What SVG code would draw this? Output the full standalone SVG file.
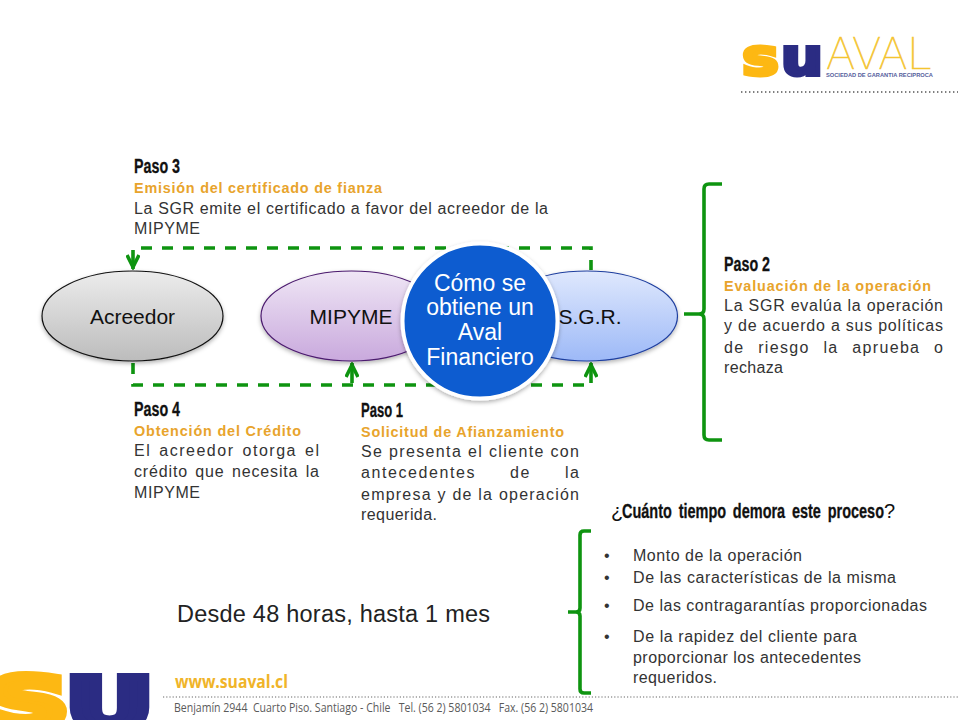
<svg xmlns="http://www.w3.org/2000/svg" width="960" height="720" viewBox="0 0 960 720">
<defs>
<linearGradient id="gGray" x1="0" y1="0" x2="0" y2="1"><stop offset="0" stop-color="#ececec"/><stop offset="1" stop-color="#bcbcbc"/></linearGradient>
<linearGradient id="gPurple" x1="0" y1="0" x2="0" y2="1"><stop offset="0" stop-color="#efe6f5"/><stop offset="1" stop-color="#c9a9dd"/></linearGradient>
<linearGradient id="gBlue" x1="0" y1="0" x2="0" y2="1"><stop offset="0" stop-color="#dfe8fd"/><stop offset="1" stop-color="#9db9f7"/></linearGradient>
<filter id="sh" x="-10%" y="-10%" width="120%" height="125%"><feDropShadow dx="0" dy="2" stdDeviation="2" flood-color="#000" flood-opacity="0.3"/></filter>
<marker id="arr" viewBox="0 0 16 14" refX="15" refY="7" markerWidth="16" markerHeight="14" markerUnits="userSpaceOnUse" orient="auto"><path d="M1 1 L13 7 L1 13" fill="none" stroke="#0e9410" stroke-width="3.6"/></marker>
</defs>
<style>
text{font-family:"Liberation Sans",Arial,sans-serif}
.t{font-size:16px;fill:#333;transform:translateY(1px)}
.o{font-size:14.4px;font-weight:700;fill:#e8a42c;transform:translateY(1px)}
.p{font-family:"Liberation Sans Narrow","Liberation Sans",sans-serif;font-size:20px;font-weight:700;fill:#111;stroke:#111;stroke-width:.3;transform:translateY(1px)}
.q{font-size:20px;fill:#111}
.n{font-size:21px;fill:#111;text-anchor:middle}
.c{font-size:23px;fill:#fff;text-anchor:middle}
.d{fill:none;stroke:#0e9410;stroke-width:3.6;stroke-dasharray:11 10}
.s{fill:none;stroke:#0e9410;stroke-width:3.6}
.b{fill:none;stroke:#0e9410;stroke-width:3.6}
</style>
<rect width="960" height="720" fill="#fff"/>

<g id="logo">
<text x="742" y="75" font-size="52" font-weight="700" fill="#fdb813" stroke="#fdb813" stroke-width="4" textLength="37" lengthAdjust="spacingAndGlyphs" style="font-family:'DejaVu Sans',sans-serif">s</text>
<text x="781" y="75" font-size="52" font-weight="700" fill="#2b2c83" stroke="#2b2c83" stroke-width="4" textLength="42" lengthAdjust="spacingAndGlyphs" style="font-family:'DejaVu Sans',sans-serif">u</text>
<text x="826" y="69" font-size="43" fill="#f4c430" stroke="#f4c430" stroke-width=".6" textLength="107" lengthAdjust="spacingAndGlyphs" style="font-family:Inter,sans-serif;font-weight:100">AVAL</text>
<text x="826" y="77" font-size="5.2" font-weight="700" fill="#555e9c" textLength="107" lengthAdjust="spacingAndGlyphs">SOCIEDAD DE GARANTIA RECIPROCA</text>
<line x1="741" y1="92" x2="958" y2="92" stroke="#555" stroke-width="1.4" stroke-dasharray="1.4 2.6"/>
</g>

<g id="footer">
<text x="-12" y="727" font-size="70" font-weight="700" fill="#fdb813" stroke="#fdb813" stroke-width="9" textLength="80" lengthAdjust="spacingAndGlyphs" style="font-family:'DejaVu Sans',sans-serif">S</text>
<text x="66" y="728" font-size="70" font-weight="700" fill="#2b2c83" stroke="#2b2c83" stroke-width="8" textLength="87" lengthAdjust="spacingAndGlyphs" style="font-family:'DejaVu Sans',sans-serif">U</text>
<text x="175" y="688" font-size="18" font-weight="700" fill="#f0b429" textLength="113" lengthAdjust="spacingAndGlyphs" style="font-family:'Open Sans',sans-serif">www.suaval.cl</text>
<line x1="163" y1="697" x2="958" y2="697" stroke="#666" stroke-width="1.2" stroke-dasharray="1.2 2"/>
<text x="174" y="712" font-size="12" fill="#5a5a5a" textLength="419" lengthAdjust="spacingAndGlyphs" style="font-family:'Open Sans',sans-serif;white-space:pre">Benjamín 2944  Cuarto Piso. Santiago - Chile   Tel. (56 2) 5801034   Fax. (56 2) 5801034</text>
</g>

<g id="connectors">
<path class="d" d="M141 248 H591 V270"/>
<path class="d" d="M133 363 V385 H591"/>
<path class="s" d="M133 250 V269" marker-end="url(#arr)"/>
<path class="s" d="M352 383 V363" marker-end="url(#arr)"/>
<path class="s" d="M591 383 V363" marker-end="url(#arr)"/>
<path class="b" d="M722 184 H709 Q704 184 704 189 V309 Q704 314 699 314 H684 H699 Q704 314 704 319 V435 Q704 440 709 440 H722"/>
<path class="b" d="M591 531 H584 Q580 531 580 535 V608 Q580 612 576 612 H568 H576 Q580 612 580 616 V689 Q580 693 584 693 H591"/>
</g>

<g id="node-acreedor">
<ellipse cx="132.5" cy="316" rx="90.5" ry="45" fill="url(#gGray)" stroke="#111" stroke-width="1.2" filter="url(#sh)"/>
<text class="n" x="132.5" y="324">Acreedor</text>
</g>
<g id="node-mipyme">
<ellipse cx="351.5" cy="316" rx="90.5" ry="45" fill="url(#gPurple)" stroke="#4b1a6e" stroke-width="1.2" filter="url(#sh)"/>
<text class="n" x="351" y="324">MIPYME</text>
</g>
<g id="node-sgr">
<ellipse cx="587" cy="316" rx="90.5" ry="45" fill="url(#gBlue)" stroke="#1f3f9f" stroke-width="1.2" filter="url(#sh)"/>
<text class="n" x="590" y="324">S.G.R.</text>
</g>
<g id="node-center">
<circle cx="480" cy="321" r="77.5" fill="#0a5bd0" stroke="#fff" stroke-width="4" filter="url(#sh)"/>
<text class="c" x="480" y="291">Cómo se</text>
<text class="c" x="480" y="315">obtiene un</text>
<text class="c" x="480" y="340">Aval</text>
<text class="c" x="480" y="365">Financiero</text>
</g>

<g id="paso3">
<text class="p" x="134" y="172" textLength="46" lengthAdjust="spacingAndGlyphs">Paso 3</text>
<text class="o" x="134" y="192" textLength="248">Emisión del certificado de fianza</text>
<text class="t" x="134" y="213" textLength="414">La SGR emite el certificado a favor del acreedor de la</text>
<text class="t" x="134" y="233" textLength="66">MIPYME</text>
</g>
<g id="paso2">
<text class="p" x="724" y="270" textLength="46" lengthAdjust="spacingAndGlyphs">Paso 2</text>
<text class="o" x="724" y="290" textLength="207">Evaluación de la operación</text>
<text class="t" x="724" y="310" textLength="219">La SGR evalúa la operación</text>
<text class="t" x="724" y="330" textLength="219">y de acuerdo a sus políticas</text>
<text class="t" x="724" y="352" textLength="219" word-spacing="8">de riesgo la aprueba o</text>
<text class="t" x="724" y="372" textLength="59">rechaza</text>
</g>
<g id="paso4">
<text class="p" x="134" y="415" textLength="46" lengthAdjust="spacingAndGlyphs">Paso 4</text>
<text class="o" x="134" y="435" textLength="167">Obtención del Crédito</text>
<text class="t" x="134" y="455" textLength="185" word-spacing="2">El acreedor otorga el</text>
<text class="t" x="134" y="476" textLength="185" word-spacing="2">crédito que necesita la</text>
<text class="t" x="134" y="497" textLength="66">MIPYME</text>
</g>
<g id="paso1">
<text class="p" x="361" y="416" textLength="42" lengthAdjust="spacingAndGlyphs">Paso 1</text>
<text class="o" x="361" y="436" textLength="203">Solicitud de Afianzamiento</text>
<text class="t" x="361" y="456" textLength="218">Se presenta el cliente con</text>
<text class="t" x="361" y="477" textLength="218" word-spacing="28">antecedentes de la</text>
<text class="t" x="361" y="499" textLength="218">empresa y de la operación</text>
<text class="t" x="361" y="519" textLength="76">requerida.</text>
</g>

<g id="tiempo">
<text class="q" x="611" y="518">¿</text>
<text class="p" x="622" y="517" textLength="262" lengthAdjust="spacingAndGlyphs" word-spacing="4" style="font-size:21px">Cuánto tiempo demora este proceso</text>
<text class="q" x="884" y="518">?</text>
<text x="177" y="622" font-size="23.5" fill="#222" textLength="313">Desde 48 horas, hasta 1 mes</text>
<g class="list">
<text class="t" x="604" y="560">•</text><text class="t" x="633" y="560" textLength="169">Monto de la operación</text>
<text class="t" x="604" y="582">•</text><text class="t" x="633" y="582" textLength="263">De las características de la misma</text>
<text class="t" x="604" y="610">•</text><text class="t" x="633" y="610" textLength="294">De las contragarantías proporcionadas</text>
<text class="t" x="604" y="641">•</text><text class="t" x="633" y="641" textLength="224">De la rapidez del cliente para</text>
<text class="t" x="633" y="662" textLength="228">proporcionar los antecedentes</text>
<text class="t" x="633" y="682" textLength="84">requeridos.</text>
</g>
</g>
</svg>
